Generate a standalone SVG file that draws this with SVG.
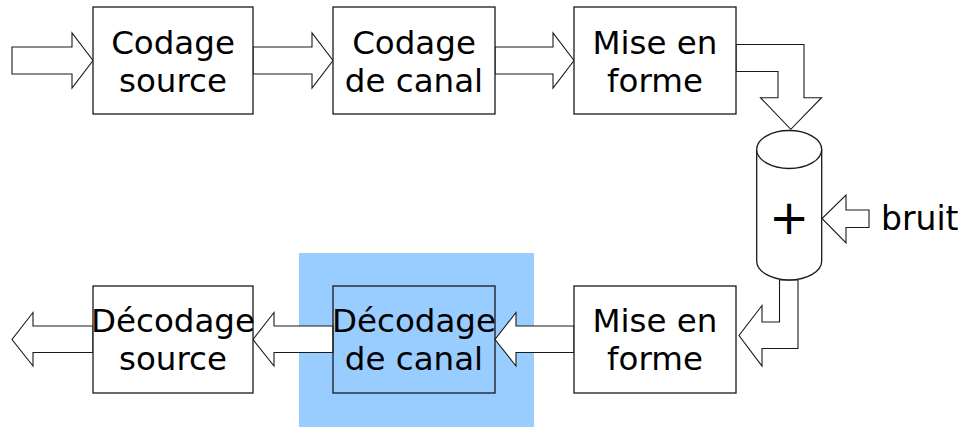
<svg xmlns="http://www.w3.org/2000/svg" width="964" height="427" viewBox="0 0 964 427">
<style>
.box{fill:none;stroke:#1a1a1a;stroke-width:1.3}
.wbox{fill:#ffffff;stroke:#1a1a1a;stroke-width:1.3}
.arr{fill:#ffffff;stroke:#1a1a1a;stroke-width:1.1;stroke-linejoin:miter}
.t{font-family:"DejaVu Sans",sans-serif;font-size:32.5px;fill:#000;text-anchor:middle}
</style>
<rect id="highlight" x="299" y="253" width="235" height="174" fill="#99ccff"/>
<g id="connectors">
<path class="arr" d="M12,47 L72,47 L72,33 L93,60.5 L72,88 L72,74 L12,74 Z"/>
<path class="arr" d="M253,47 L312,47 L312,33 L333,60.5 L312,88 L312,74 L253,74 Z"/>
<path class="arr" d="M495,47 L553,47 L553,33 L574,60.5 L553,88 L553,74 L495,74 Z"/>
<path class="arr" d="M736,44.5 L804,44.5 L804,97.7 L821.5,97.7 L790.8,129.3 L760.5,97.7 L778,97.7 L778,71.5 L736,71.5 Z"/>
<path class="arr" d="M869,210 L846,210 L846,195 L822,218.5 L846,243 L846,227.5 L869,227.5 Z"/>
<path class="arr" d="M779.5,280 L798,280 L798,348.5 L762,348.5 L762,366 L739,335.5 L762,305.5 L762,322 L779.5,322 Z"/>
<path class="arr" d="M574,326 L516,326 L516,312.5 L495,339.5 L516,366 L516,352.5 L574,352.5 Z"/>
<path class="arr" d="M333,326 L274,326 L274,312.5 L253,339.5 L274,366 L274,352.5 L333,352.5 Z"/>
<path class="arr" d="M93,326 L33,326 L33,312.5 L12,339.5 L33,366 L33,352.5 L93,352.5 Z"/>
</g>
<g id="codage-source">
<rect class="wbox" x="93" y="7" width="160" height="107"/>
<text class="t" x="173" y="54">Codage</text>
<text class="t" x="173" y="92">source</text>
</g>
<g id="codage-canal">
<rect class="wbox" x="333" y="7" width="162" height="107"/>
<text class="t" x="414" y="54">Codage</text>
<text class="t" x="414" y="92">de canal</text>
</g>
<g id="mise-en-forme-1">
<rect class="wbox" x="574" y="7" width="162" height="107"/>
<text class="t" x="655" y="54">Mise en</text>
<text class="t" x="655" y="92">forme</text>
</g>
<g id="canal">
<path class="wbox" d="M756.7,149.5 L756.7,261 A32.5,19 0 0 0 821.7,261 L821.7,149.5"/>
<ellipse class="wbox" cx="789.2" cy="149.5" rx="32.5" ry="19"/>
<text x="789" y="234" style="font-family:'DejaVu Sans',sans-serif;font-size:48px;text-anchor:middle;fill:#000">+</text>
</g>
<g id="bruit">
<text x="881" y="230" style="font-family:'DejaVu Sans',sans-serif;font-size:33px;fill:#000">bruit</text>
</g>
<g id="mise-en-forme-2">
<rect class="wbox" x="574" y="286" width="162" height="107"/>
<text class="t" x="655" y="332">Mise en</text>
<text class="t" x="655" y="370">forme</text>
</g>
<g id="decodage-canal">
<rect class="box" x="333" y="286" width="162" height="107"/>
<text class="t" x="414" y="332">Décodage</text>
<text class="t" x="414" y="370">de canal</text>
</g>
<g id="decodage-source">
<rect class="wbox" x="93" y="286" width="160" height="107"/>
<text class="t" x="173" y="332">Décodage</text>
<text class="t" x="173" y="370">source</text>
</g>
</svg>
